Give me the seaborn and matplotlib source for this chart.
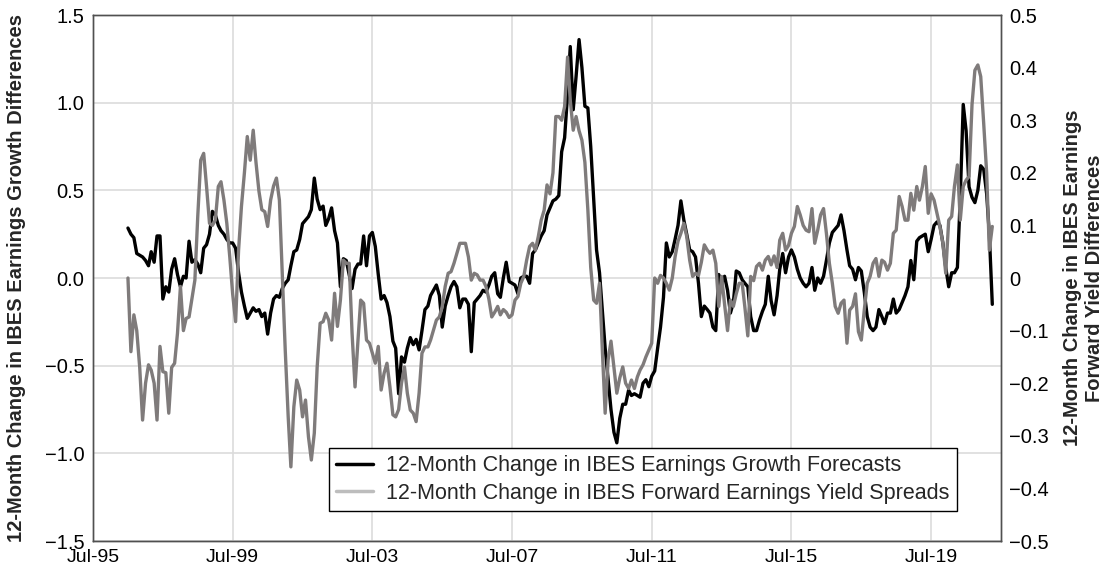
import pandas as pd
import matplotlib
matplotlib.use("Agg")
import matplotlib.pyplot as plt
import matplotlib.dates as mdates
from matplotlib.ticker import FuncFormatter, MultipleLocator
from matplotlib.lines import Line2D
import seaborn as sns

# monthly values, starting Jul-1996
start_month = "1996-07-01"

growth_forecasts = [
    0.285, 0.25, 0.23, 0.14, 0.13, 0.12, 0.10, 0.07, 0.15, 0.09, 0.24, 0.24,
    -0.12, -0.05, -0.08, 0.05, 0.11, 0.02, -0.05, 0.01, 0.00, 0.21, 0.09, 0.105,
    0.08, 0.03, 0.17, 0.19, 0.25, 0.38, 0.36, 0.30, 0.27, 0.25, 0.22, 0.20,
    0.20, 0.17, 0.03, -0.08, -0.16, -0.23, -0.20, -0.17, -0.19, -0.18, -0.22, -0.20,
    -0.32, -0.20, -0.12, -0.10, -0.11, -0.06, -0.03, -0.01, 0.07, 0.15, 0.16, 0.22,
    0.31, 0.33, 0.35, 0.39, 0.57, 0.45, 0.39, 0.41, 0.30, 0.34, 0.40, 0.27,
    0.20, -0.05, 0.11, 0.10, 0.02, -0.06, 0.05, 0.08, 0.08, 0.24, 0.07, 0.24,
    0.26, 0.18, 0.02, -0.12, -0.10, -0.14, -0.22, -0.36, -0.40, -0.66, -0.45, -0.48,
    -0.40, -0.34, -0.38, -0.35, -0.41, -0.30, -0.18, -0.16, -0.10, -0.07, -0.04, -0.10,
    -0.28, -0.16, -0.10, -0.05, -0.02, -0.05, -0.17, -0.12, -0.12, -0.15, -0.42, -0.14,
    -0.12, -0.10, -0.07, -0.08, -0.04, 0.01, 0.03, -0.09, -0.11, 0.00, 0.09, -0.02,
    -0.03, -0.04, -0.09, 0.00, 0.01, 0.01, -0.03, 0.14, 0.16, 0.20, 0.24, 0.27,
    0.36, 0.40, 0.44, 0.45, 0.47, 0.72, 0.80, 1.05, 1.32, 0.96, 1.15, 1.36,
    1.20, 0.98, 0.97, 0.75, 0.45, 0.16, 0.03, -0.20, -0.40, -0.58, -0.75, -0.88,
    -0.94, -0.80, -0.72, -0.72, -0.64, -0.67, -0.66, -0.67, -0.68, -0.60, -0.58, -0.62,
    -0.56, -0.53, -0.40, -0.28, -0.11, 0.20, 0.12, 0.15, 0.22, 0.30, 0.44, 0.33,
    0.25, 0.16, 0.15, 0.12, -0.03, -0.22, -0.16, -0.18, -0.20, -0.28, -0.30, 0.02,
    -0.03, 0.01, -0.07, -0.20, -0.14, 0.04, 0.03, -0.01, -0.03, -0.05, -0.22, -0.30,
    -0.30, -0.24, -0.19, -0.15, 0.01, -0.13, -0.21, -0.10, 0.05, 0.14, 0.03, 0.12,
    0.16, 0.12, 0.05, 0.00, -0.03, -0.05, -0.03, 0.06, -0.07, 0.00, -0.03, 0.01,
    0.10, 0.20, 0.26, 0.28, 0.30, 0.36, 0.27, 0.16, 0.07, 0.05, -0.01, 0.06,
    0.04, -0.08, -0.22, -0.28, -0.30, -0.28, -0.18, -0.22, -0.26, -0.20, -0.20, -0.12,
    -0.20, -0.18, -0.14, -0.10, -0.05, 0.10, -0.01, 0.21, 0.23, 0.24, 0.25, 0.15,
    0.22, 0.30, 0.32, 0.30, 0.20, 0.06, -0.05, 0.03, 0.03, 0.06, 0.46, 0.99,
    0.84, 0.52, 0.46, 0.43, 0.50, 0.64, 0.62, 0.48, 0.25, -0.15,
]

yield_spreads = [
    0.0, -0.14, -0.07, -0.10, -0.17, -0.27, -0.20, -0.165, -0.175, -0.20, -0.27, -0.13,
    -0.178, -0.18, -0.257, -0.17, -0.162, -0.105, -0.016, -0.10, -0.077, -0.074, -0.04, -0.004,
    0.117, 0.224, 0.237, 0.174, 0.104, 0.10, 0.11, 0.174, 0.183, 0.148, 0.104, 0.04,
    -0.03, -0.083, 0.053, 0.136, 0.20, 0.269, 0.224, 0.281, 0.22, 0.165, 0.13, 0.126,
    0.098, 0.148, 0.175, 0.19, 0.148, 0.009, -0.137, -0.264, -0.359, -0.245, -0.194, -0.213,
    -0.264, -0.232, -0.302, -0.346, -0.295, -0.169, -0.086, -0.083, -0.067, -0.08, -0.118, -0.029,
    -0.092, -0.042, 0.034, 0.028, 0.028, -0.105, -0.207, -0.118, -0.042, -0.048, -0.118, -0.124,
    -0.143, -0.162, -0.13, -0.213, -0.181, -0.162, -0.207, -0.26, -0.264, -0.25, -0.20, -0.169,
    -0.219, -0.251, -0.257, -0.273, -0.219, -0.143, -0.131, -0.131, -0.118, -0.099, -0.08, -0.074,
    -0.054, -0.016, 0.009, 0.012, 0.028, 0.047, 0.066, 0.066, 0.066, 0.04, -0.004, 0.009,
    0.006, -0.004, -0.004, -0.016, -0.04, -0.074, -0.065, -0.054, -0.07, -0.06, -0.065, -0.075,
    -0.07, -0.042, -0.035, -0.01, 0.003, 0.034, 0.06, 0.066, 0.053, 0.079, 0.11, 0.129,
    0.177, 0.16, 0.20, 0.307, 0.307, 0.30, 0.326, 0.42, 0.338, 0.281, 0.307, 0.28,
    0.262, 0.22, 0.13, 0.02, -0.042, -0.048, -0.01, -0.143, -0.257, -0.156, -0.12, -0.17,
    -0.219, -0.19, -0.169, -0.20, -0.21, -0.194, -0.21, -0.188, -0.175, -0.165, -0.15, -0.137,
    -0.124, 0.0, -0.01, 0.005, 0.0, -0.01, -0.023, 0.0, 0.04, 0.07, 0.085, 0.104,
    0.079, 0.034, 0.003, 0.009, 0.005, 0.03, 0.063, 0.053, 0.047, 0.053, 0.028, -0.054,
    0.003, -0.05, -0.10, -0.042, -0.054, -0.03, -0.01, -0.01, -0.055, -0.11, 0.003, -0.005,
    0.022, 0.028, 0.015, 0.034, 0.041, 0.025, 0.042, 0.02, 0.072, 0.085, 0.053, 0.062,
    0.085, 0.098, 0.136, 0.12, 0.10, 0.091, 0.088, 0.132, 0.066, 0.091, 0.12, 0.132,
    0.085, 0.028, -0.01, -0.054, -0.067, -0.048, -0.042, -0.124, -0.061, -0.054, -0.03, -0.102,
    -0.118, -0.061, -0.01, 0.003, 0.028, 0.037, 0.003, 0.034, 0.03, 0.015, 0.028, 0.085,
    0.091, 0.155, 0.136, 0.11, 0.11, 0.161, 0.129, 0.174, 0.148, 0.174, 0.212, 0.123,
    0.16, 0.148, 0.123, 0.098, 0.066, 0.009, 0.11, 0.117, 0.174, 0.215, 0.11, 0.174,
    0.186, 0.193, 0.33, 0.395, 0.405, 0.383, 0.294, 0.20, 0.053, 0.098,
]

x_ticks = ["1995-07-01", "1999-07-01", "2003-07-01", "2007-07-01",
           "2011-07-01", "2015-07-01", "2019-07-01"]

label_growth = "12-Month Change in IBES Earnings Growth Forecasts"
label_spread = "12-Month Change in IBES Forward Earnings Yield Spreads"
ylabel_left = "12-Month Change in IBES Earnings Growth Differences"
ylabel_right = "12-Month Change in IBES Earnings\nForward Yield Differences"

dates = pd.date_range(start_month, periods=len(growth_forecasts), freq="MS")
df = pd.DataFrame({"date": dates, "growth": growth_forecasts, "spread": yield_spreads})

sns.set_style("white")
plt.rcParams["font.family"] = ["Liberation Sans", "DejaVu Sans"]

fig = plt.figure(figsize=(11.04, 5.69), dpi=100)
ax = fig.add_axes([0.0842, 0.0492, 0.8225, 0.9244])
ax2 = ax.twinx()

sns.lineplot(data=df, x="date", y="growth", ax=ax, color="black", linewidth=2.4)
sns.lineplot(data=df, x="date", y="spread", ax=ax2, color="#7f7b7b", linewidth=2.4)

ax.set_xlim(pd.Timestamp("1995-07-01"), pd.Timestamp("2021-07-01"))
ax.set_ylim(-1.5, 1.5)
ax2.set_ylim(-0.5, 0.5)
ax.yaxis.set_major_locator(MultipleLocator(0.5))
ax2.yaxis.set_major_locator(MultipleLocator(0.1))

ax.set_xticks(pd.to_datetime(x_ticks))
ax.xaxis.set_major_formatter(mdates.DateFormatter("%b-%y"))

minus = "\u2212"
ax.yaxis.set_major_formatter(FuncFormatter(lambda v, p: f"{v:.1f}".replace("-", minus)))
ax2.yaxis.set_major_formatter(
    FuncFormatter(lambda v, p: "0" if abs(v) < 1e-9 else f"{v:.1f}".replace("-", minus)))

ax.grid(True, color="#dcdcdc", linewidth=1.2)
ax.set_axisbelow(True)
for a in (ax, ax2):
    a.tick_params(length=0, labelsize=14.5, colors="black", pad=6)
    for s in a.spines.values():
        s.set_color("#505050")
        s.set_linewidth(1.0)
ax.tick_params(axis="x", labelsize=14, pad=6)

ax.set_xlabel("")
ax.set_ylabel(ylabel_left, fontsize=14.5, fontweight="bold")
ax.yaxis.set_label_coords(-0.074, 0.5)
ax2.set_ylabel(ylabel_right, fontsize=14.5, fontweight="bold", labelpad=10)

handles = [
    Line2D([0], [0], color="black", linewidth=2.5),
    Line2D([0], [0], color="#bdbdbd", linewidth=2.5),
]
leg = ax2.legend(handles, [label_growth, label_spread], loc="lower left",
                 bbox_to_anchor=(0.248, 0.036), fontsize=15.5, frameon=True,
                 fancybox=False, framealpha=1, edgecolor="black",
                 handlelength=1.7, handletextpad=0.6, borderpad=0.35,
                 labelspacing=0.3)
leg.get_frame().set_linewidth(1.0)

fig.savefig("out.png", dpi=100)
